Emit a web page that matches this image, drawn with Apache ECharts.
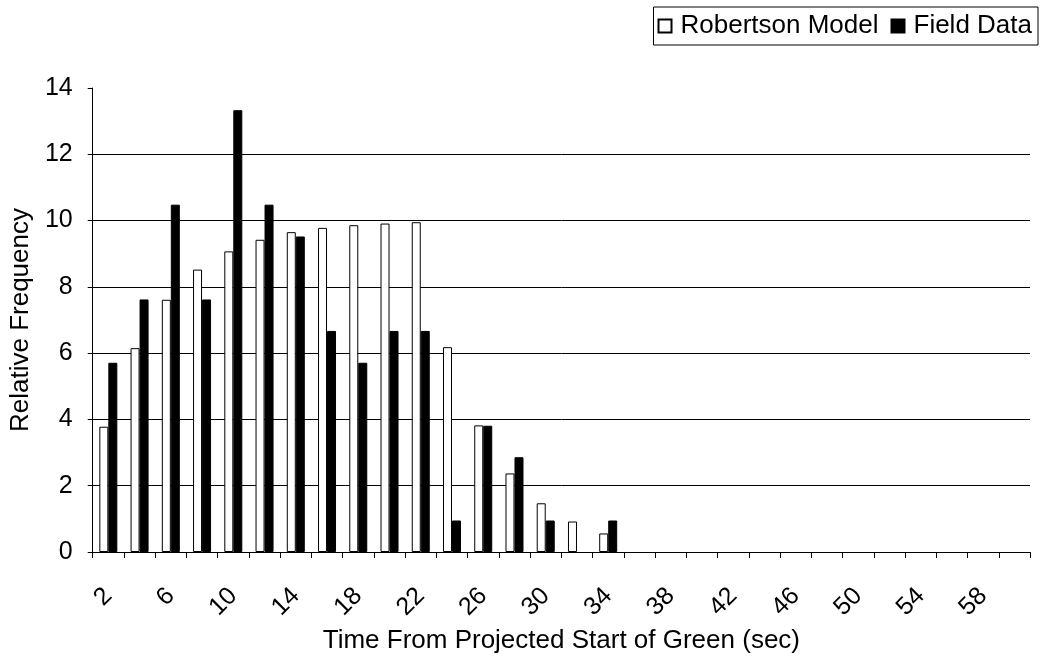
<!DOCTYPE html>
<html>
<head>
<meta charset="utf-8">
<script src="https://cdn.jsdelivr.net/npm/echarts@6/dist/echarts.min.js"></script>
<style>html,body{margin:0;padding:0;background:#fff;}#c{width:1042px;height:660px;}</style>
</head>
<body>
<div id="c"></div>
<script>
const categories = ['2','4','6','8','10','12','14','16','18','20','22','24','26','28','30','32','34','36','38','40','42','44','46','48','50','52','54','56','58','60'];
const robertsonModel = [3.78,6.15,7.61,8.52,9.07,9.42,9.65,9.78,9.86,9.91,9.95,6.18,3.82,2.37,1.47,0.92,0.56,0,0,0,0,0,0,0,0,0,0,0,0,0];
const fieldData = [5.71,7.62,10.48,7.62,13.33,10.48,9.52,6.67,5.71,6.67,6.67,0.95,3.81,2.86,0.95,0,0.95,0,0,0,0,0,0,0,0,0,0,0,0,0];
const yTicks = [0,2,4,6,8,10,12,14];
const seriesNames = ['Robertson Model','Field Data'];
const xTitle = 'Time From Projected Start of Green (sec)';
const yTitle = 'Relative Frequency';

const FONT = 'Liberation Sans, Arial, sans-serif';
const noZero = arr => arr.map(v => (v === 0 ? '-' : v));
const chart = echarts.init(document.getElementById('c'), null, {renderer:'canvas'});
chart.setOption({
  animation: false,
  backgroundColor: '#fff',
  textStyle: {fontFamily: FONT, color: '#000'},
  legend: {
    right: 4, top: 7,
    orient: 'horizontal',
    padding: [6, 6, 6, 4],
    itemGap: 12,
    itemWidth: 13, itemHeight: 13,
    borderColor: '#000', borderWidth: 1,
    textStyle: {fontFamily: FONT, fontSize: 26, color: '#000', padding: [0,0,0,4]},
    data: seriesNames.map(n => ({name: n, icon: 'rect'}))
  },
  grid: {left: 91, right: 12, top: 88, bottom: 108, containLabel: false},
  xAxis: {
    type: 'category',
    data: categories,
    boundaryGap: true,
    name: xTitle,
    nameLocation: 'middle',
    nameGap: 72,
    nameTextStyle: {fontFamily: FONT, fontSize: 26, color: '#000'},
    axisLine: {lineStyle: {color: '#000', width: 1}},
    axisTick: {show: true, alignWithLabel: false, interval: 0, length: 6, lineStyle: {color: '#000'}},
    axisLabel: {interval: 1, rotate: 45, margin: 40, fontFamily: FONT, fontSize: 25, color: '#000'},
    splitLine: {show: false}
  },
  yAxis: {
    type: 'value',
    min: yTicks[0], max: yTicks[yTicks.length-1], interval: 2,
    name: yTitle,
    nameLocation: 'middle',
    nameGap: 55,
    nameTextStyle: {fontFamily: FONT, fontSize: 26, color: '#000'},
    axisLine: {show: true, lineStyle: {color: '#000', width: 1}},
    axisTick: {show: true, length: 5, lineStyle: {color: '#000'}},
    axisLabel: {margin: 20, fontFamily: FONT, fontSize: 25, color: '#000'},
    splitLine: {show: true, lineStyle: {color: ['#000','#000','#000','#000','#000','#000','#000','rgba(0,0,0,0)'], width: 1}}
  },
  series: [
    {
      name: seriesNames[0], type: 'bar', data: noZero(robertsonModel),
      barWidth: 9, barGap: '0%',
      itemStyle: {color: '#fff', borderColor: '#000', borderWidth: 1}
    },
    {
      name: seriesNames[1], type: 'bar', data: noZero(fieldData),
      barWidth: 9, barGap: '0%',
      itemStyle: {color: '#000', borderColor: '#000', borderWidth: 1}
    }
  ]
});
</script>
</body>
</html>
